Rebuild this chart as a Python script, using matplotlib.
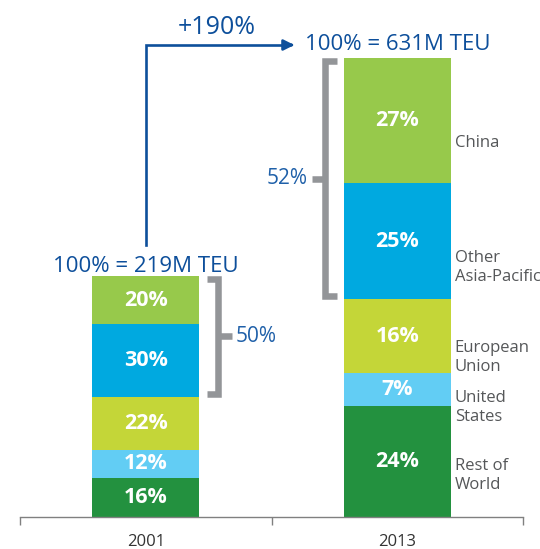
import numpy as np
import matplotlib.pyplot as plt

# === Dados ===
anos = ["2001", "2013"]
regioes = ["Rest of\nWorld", "United\nStates", "European\nUnion", "Other\nAsia-Pacific", "China"]
share_2001 = [16, 12, 22, 30, 20]
share_2013 = [24, 7, 16, 25, 27]
total_teu = ["219M", "631M"]
crescimento = "+190%"
asia_2001 = "50%"
asia_2013 = "52%"

cores = ["#23913f", "#62cdf4", "#c4d638", "#00a9e0", "#97c94b"]
azul_escuro = "#0d4f9b"
azul_medio = "#1f60a9"
cinza = "#939598"

plt.rcParams['font.family'] = ['Open Sans', 'DejaVu Sans']

fig = plt.figure(figsize=(5.4, 5.49), dpi=100)
ax = fig.add_axes([20 / 540, 32 / 549, 503 / 540, 517 / 549])
PX = 4.59  # pixels por unidade y
ax.set_xlim(0, 2)
ax.set_ylim(0, 517 / PX)

xpos = np.array([0.5, 1.5])
largura = 0.425
altura_total = [52.5, 100.0]  # altura desenhada de cada barra

# === Barras empilhadas ===
limites = []
for j, shares in enumerate([share_2001, share_2013]):
    s = np.array(shares, dtype=float)
    h = s / s.sum() * altura_total[j]
    base = np.concatenate([[0], np.cumsum(h)[:-1]])
    ax.bar([xpos[j]] * len(h), h, bottom=base, width=largura, color=cores, linewidth=0)
    for k in range(len(h)):
        ax.text(xpos[j], base[k] + h[k] / 2, f"{shares[k]}%", ha="center", va="center",
                color="white", fontsize=15.5, fontweight="bold")
    limites.append((base, h))

# === Rotulos das regioes (a direita de 2013) ===
base13, h13 = limites[1]
desloc = [14, 18, 21, 26, 22]
for k, nome in enumerate(regioes):
    y = base13[k] + h13[k] / 2 - desloc[k] / PX
    ax.text(xpos[1] + largura / 2 + 0.016, y, nome, ha="left", va="center",
            color="#555759", fontsize=12, linespacing=1.25)

# === Totais ===
topo01 = altura_total[0]
topo13 = altura_total[1]
ax.text(xpos[0], topo01 + 10 / PX, f"100% = {total_teu[0]} TEU", ha="center", va="center",
        color=azul_escuro, fontsize=16, clip_on=False)
ax.text(1.135, topo13 + 13 / PX, f"100% = {total_teu[1]} TEU", ha="left", va="center",
        color=azul_escuro, fontsize=16, clip_on=False)

# seta de crescimento
y_seta = topo13 + 13 / PX
ax.plot([xpos[0], xpos[0], 1.07], [topo01 + 31 / PX, y_seta, y_seta],
        color=azul_escuro, lw=1.9, solid_joinstyle="miter", clip_on=False)
ax.annotate("", xy=(1.102, y_seta), xytext=(1.06, y_seta),
            arrowprops=dict(arrowstyle="-|>", color=azul_escuro, lw=1.9,
                            mutation_scale=16), annotation_clip=False)
ax.text(0.783, y_seta + 17 / PX, crescimento, ha="center", va="center",
        color=azul_escuro, fontsize=18, clip_on=False)

# === Colchetes ===
lw_col = 4.7
b01, h01 = limites[0]
y_baixo = b01[3]
y_cima = topo01
xv = 0.789
ax.plot([0.744, xv, xv, 0.744], [y_cima - 3 / PX, y_cima - 3 / PX, y_baixo + 3 / PX, y_baixo + 3 / PX],
        color=cinza, lw=lw_col, solid_joinstyle="miter", solid_capstyle="butt")
ymed = (y_cima + y_baixo) / 2
ax.plot([xv, 0.843], [ymed, ymed], color=cinza, lw=lw_col, solid_capstyle="butt")
ax.text(0.857, ymed, asia_2001, ha="left", va="center", color=azul_medio, fontsize=15)

y_baixo = base13[3]
y_cima = topo13
xv = 1.2127
ax.plot([1.26, xv, xv, 1.26], [y_cima - 3 / PX, y_cima - 3 / PX, y_baixo + 3 / PX, y_baixo + 3 / PX],
        color=cinza, lw=lw_col, solid_joinstyle="miter", solid_capstyle="butt")
ymed = (y_cima + y_baixo) / 2
ax.plot([1.161, xv], [ymed, ymed], color=cinza, lw=lw_col, solid_capstyle="butt")
ax.text(1.143, ymed, asia_2013, ha="right", va="center", color=azul_medio, fontsize=15)

# === Eixo x ===
for lado in ["top", "right", "left"]:
    ax.spines[lado].set_visible(False)
ax.spines["bottom"].set_color("#808080")
ax.spines["bottom"].set_linewidth(1.0)
ax.set_yticks([])
ax.set_xticks([0, 1, 2])
ax.set_xticklabels([])
ax.tick_params(axis="x", which="major", direction="out", length=6, width=1.0, color="#808080")
ax.set_xticks(xpos, minor=True)
ax.set_xticklabels(anos, minor=True)
ax.tick_params(axis="x", which="minor", length=0, pad=12, labelsize=12, labelcolor="#333333")

fig.savefig("out.png", dpi=100)
